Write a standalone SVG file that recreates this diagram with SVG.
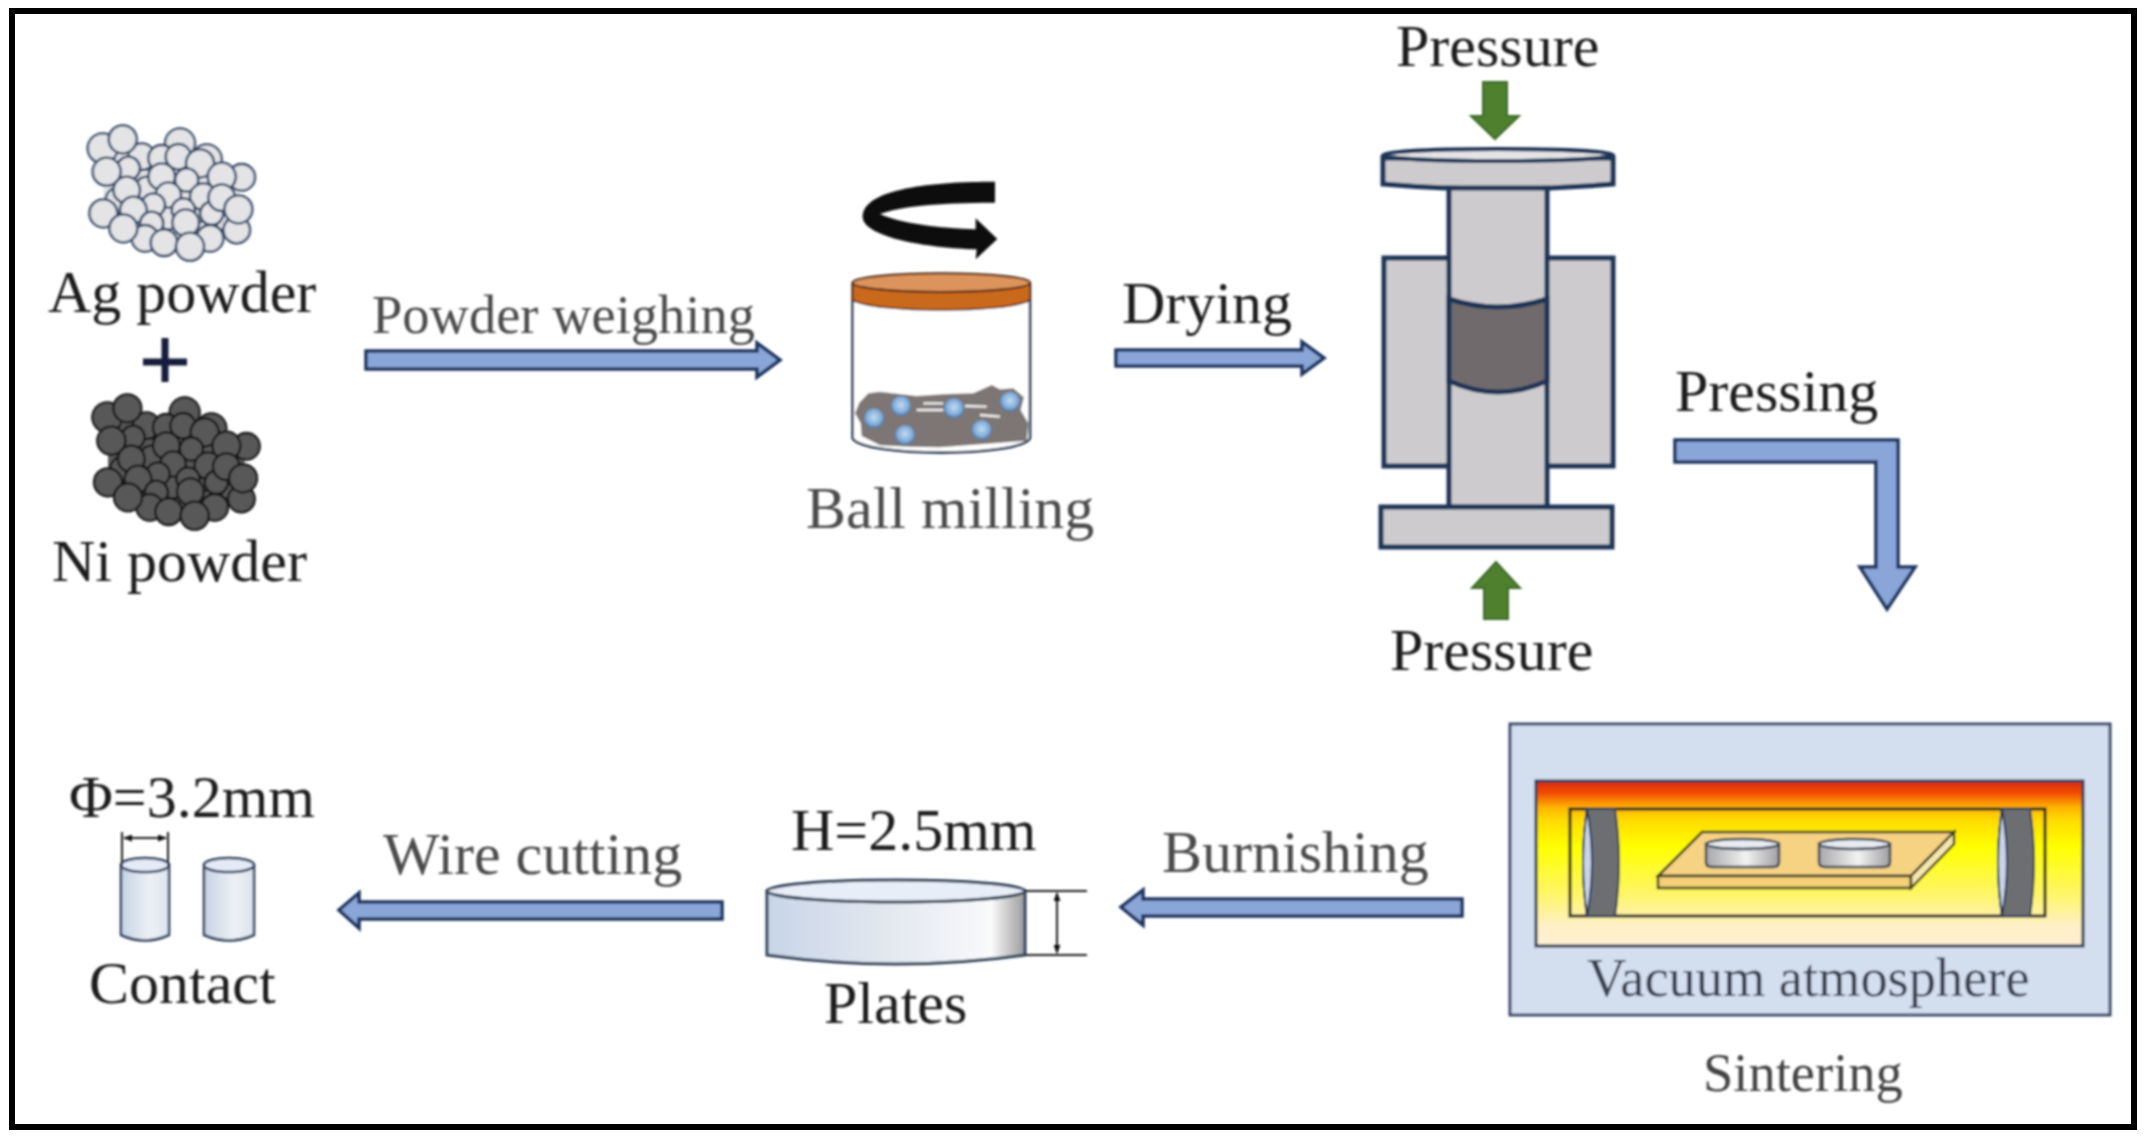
<svg xmlns="http://www.w3.org/2000/svg" width="2149" height="1140" viewBox="0 0 2149 1140">
<style>
text{font-family:"Liberation Serif","Times New Roman",serif;font-size:60px;fill:#1c1c1c}
.g{fill:#4c4c4c}
.arrow{fill:#8aa5d8;stroke:#1f3560;stroke-width:3.500;stroke-linejoin:miter}
.green{fill:#4f802f;stroke:#3c6a2a;stroke-width:2}
.steel{fill:#cdcbce;stroke:#1f3556;stroke-width:5}
.dim{fill:none;stroke:#222;stroke-width:2}
.edge{stroke:#2b3f5c;stroke-width:2.500}
</style>
<defs>
<filter id="soft" x="-2%" y="-2%" width="104%" height="104%"><feGaussianBlur stdDeviation="0.9"/></filter>
<g id="grains">
<path stroke="none" d="M190,170L420,130L600,230L600,390L450,440L315,415L190,340Z"/>
<circle cx="235" cy="300" r="38"/><circle cx="300" cy="300" r="38"/><circle cx="395" cy="235" r="38"/><circle cx="470" cy="330" r="38"/><circle cx="385" cy="350" r="38"/><circle cx="560" cy="355" r="38"/><circle cx="480" cy="250" r="38"/><circle cx="300" cy="235" r="36"/>
<circle cx="420" cy="130" r="45"/><circle cx="305" cy="170" r="40"/><circle cx="188" cy="145" r="45"/><circle cx="248" cy="118" r="42"/>
<circle cx="500" cy="178" r="45"/><circle cx="365" cy="175" r="40"/><circle cx="265" cy="205" r="35"/><circle cx="415" cy="170" r="38"/>
<circle cx="480" cy="190" r="42"/><circle cx="605" cy="232" r="40"/><circle cx="200" cy="215" r="42"/><circle cx="320" cy="265" r="35"/>
<circle cx="440" cy="240" r="35"/><circle cx="365" cy="230" r="40"/><circle cx="385" cy="285" r="38"/><circle cx="490" cy="290" r="40"/>
<circle cx="545" cy="230" r="42"/><circle cx="260" cy="270" r="40"/><circle cx="340" cy="315" r="35"/><circle cx="430" cy="330" r="35"/>
<circle cx="280" cy="330" r="40"/><circle cx="515" cy="340" r="35"/><circle cx="190" cy="340" r="42"/><circle cx="590" cy="390" r="40"/>
<circle cx="545" cy="293" r="40"/><circle cx="595" cy="328" r="42"/><circle cx="335" cy="370" r="35"/><circle cx="315" cy="415" r="40"/>
<circle cx="510" cy="415" r="40"/><circle cx="250" cy="385" r="42"/><circle cx="437" cy="368" r="40"/><circle cx="372" cy="428" r="40"/><circle cx="450" cy="440" r="42"/>
</g>
<radialGradient id="ball" cx="50%" cy="45%" r="55%"><stop offset="0" stop-color="#c3dcf2"/><stop offset="0.7" stop-color="#7fabd8"/><stop offset="1" stop-color="#44709f"/></radialGradient>
<linearGradient id="heat" x1="0" y1="0" x2="0" y2="1"><stop offset="0" stop-color="#d92a0a"/><stop offset="0.07" stop-color="#f04a05"/><stop offset="0.16" stop-color="#ffb400"/><stop offset="0.24" stop-color="#ffdc00"/><stop offset="0.4" stop-color="#ffff00"/><stop offset="0.7" stop-color="#fff56e"/><stop offset="0.88" stop-color="#fff0c8"/><stop offset="1" stop-color="#fff0d0"/></linearGradient>
<linearGradient id="metal" x1="0" y1="0" x2="1" y2="0"><stop offset="0" stop-color="#c8d5e8"/><stop offset="0.4" stop-color="#dfe5ee"/><stop offset="0.8" stop-color="#f5f6f9"/><stop offset="0.87" stop-color="#fafafa"/><stop offset="1" stop-color="#9a9a9a"/></linearGradient>
<linearGradient id="pin" x1="0" y1="0" x2="1" y2="0"><stop offset="0" stop-color="#c6d3e6"/><stop offset="0.6" stop-color="#edf0f5"/><stop offset="1" stop-color="#dde3ee"/></linearGradient>
<linearGradient id="sdisc" x1="0" y1="0" x2="1" y2="0"><stop offset="0" stop-color="#a8a8ac"/><stop offset="0.55" stop-color="#f2f2f2"/><stop offset="1" stop-color="#a0a0a4"/></linearGradient>
<marker id="tip" viewBox="0 0 10 10" refX="9" refY="5" markerWidth="9" markerHeight="7" markerUnits="userSpaceOnUse" orient="auto-start-reverse" preserveAspectRatio="none"><path d="M0,0L10,5L0,10Z" fill="#111"/></marker>
</defs>
<rect id="frame" x="12" y="11" width="2122" height="1116" fill="#fff" stroke="#000" stroke-width="6"/>
<g filter="url(#soft)">
<g id="connectors">
<path class="arrow" d="M366,351H757V343L780,360L757,377V369H366Z"/>
<path class="arrow" d="M1116,350H1302V342L1324,358L1302,374V366H1116Z"/>
<path class="arrow" d="M1675,440H1898V567H1915L1887,609L1860,567H1876V462H1675Z"/>
<path class="arrow" d="M1462,899H1143V890L1121,907L1143,925V916H1462Z"/>
<path class="arrow" d="M722,902H359V893L339,910L359,928V919H722Z"/>
</g>
<g id="ag-powder">
<use href="#grains" transform="translate(40,100) scale(.3333)" fill="#e4e4e6" stroke="#2f4464" stroke-width="7"/>
<text x="48" y="312">Ag powder</text>
</g>
<g id="plus"><path d="M143,358.500H187V365.500H143ZM161.500,338H168.500V382H161.500Z" fill="#141e3c"/></g>
<g id="ni-powder">
<use href="#grains" transform="translate(44.700,369) scale(.3333)" fill="#585858" stroke="#151515" stroke-width="7"/>
<text x="52" y="581">Ni powder</text>
</g>
<text x="372" y="333" class="g" style="font-size:54.500px">Powder weighing</text>
<g id="ball-mill">
<g transform="translate(800,160) scale(.3333)">
<path d="M585,65C400,65 190,85 188,170C188,225 350,262 530,268L527,298L592,237L527,175V208C420,205 300,190 240,162C300,140 400,128 585,128Z" fill="#0b0b10"/>
<path d="M158,368V835C190,892 658,892 690,835V368" fill="#fff" stroke="#2b3b55" stroke-width="8"/>
<path d="M205,700L240,695L350,708L440,702L520,700L575,675L600,688L640,685L672,712L662,750L685,790L680,842L600,848L500,856L420,862L330,860L240,856L185,828L182,790L165,760L178,728Z" fill="#7d7674"/>
<path d="M370,730H430M495,738L560,740M350,750H430M540,765L600,770" stroke="#f0efee" stroke-width="7" fill="none"/>
<circle cx="222" cy="775" r="30" fill="url(#ball)"/><circle cx="303" cy="738" r="30" fill="url(#ball)"/><circle cx="462" cy="745" r="30" fill="url(#ball)"/><circle cx="630" cy="725" r="30" fill="url(#ball)"/><circle cx="315" cy="825" r="30" fill="url(#ball)"/><circle cx="545" cy="810" r="30" fill="url(#ball)"/>
<path d="M158,368V420C220,460 628,460 690,420V368Z" fill="#c9691f" stroke="#5a2a10" stroke-width="5"/>
<ellipse cx="424" cy="368" rx="266" ry="28" fill="#dd935c" stroke="#4a2410" stroke-width="6"/>
</g>
<text x="806" y="528" class="g">Ball milling</text>
</g>
<text x="1122" y="323">Drying</text>
<g id="press">
<rect class="steel" x="1384" y="258" width="229" height="208"/>
<path class="steel" d="M1383,158V184Q1498,194 1613,184V158Z"/>
<ellipse cx="1498" cy="155" rx="115" ry="6" fill="#e4e4e6" stroke="#1f3556" stroke-width="4"/>
<rect class="steel" x="1449" y="188" width="98" height="319"/>
<rect class="steel" x="1381" y="507" width="231" height="40"/>
<path d="M1449,299Q1498,315 1547,299V381Q1498,403 1449,381Z" fill="#716b6c" stroke="#1f3556" stroke-width="5"/>
<path class="green" d="M1483,82H1507V116H1519L1495,139L1471,116H1483Z"/>
<path class="green" d="M1484,619H1508V588H1520L1496,562L1472,588H1484Z"/>
<text x="1396" y="66">Pressure</text>
<text x="1390" y="670">Pressure</text>
</g>
<text x="1675" y="411">Pressing</text>
<g id="furnace">
<rect x="1510" y="724" width="600" height="291" fill="#d3deef" stroke="#3a4a6a" stroke-width="3"/>
<rect x="1536" y="781" width="547" height="165" fill="url(#heat)" stroke="#2f3a55" stroke-width="3"/>
<rect x="1570" y="809" width="475" height="107" fill="none" stroke="#2b2a20" stroke-width="3"/>
<path d="M1587,809H1615Q1623,862 1615,916H1587Q1579,862 1587,809Z" fill="#6c6e72" stroke="#3a4558" stroke-width="2"/>
<path d="M1587,809Q1579,862 1587,916Q1597,862 1587,809Z" fill="#c8d4e8" stroke="#24385c" stroke-width="2"/>
<path d="M2002,809H2030Q2038,862 2030,916H2002Q1994,862 2002,809Z" fill="#6c6e72" stroke="#3a4558" stroke-width="2"/>
<path d="M2002,809Q1994,862 2002,916Q2012,862 2002,809Z" fill="#c8d4e8" stroke="#24385c" stroke-width="2"/>
<path d="M1702,832H1954L1911,876H1658Z" fill="#f6d283" stroke="#3b3b20" stroke-width="2.500"/>
<path d="M1658,876H1911V888H1658Z" fill="#f5d078" stroke="#3b3b20" stroke-width="2.500"/>
<path d="M1911,876L1954,832V844L1911,888Z" fill="#f8e6ae" stroke="#3b3b20" stroke-width="2.500"/>
<path d="M1706,844V862Q1706,867 1712,867H1773Q1779,867 1779,862V844Z" fill="url(#sdisc)" stroke="#3c4456" stroke-width="2.500"/>
<ellipse cx="1742.500" cy="844" rx="36.500" ry="5" fill="#e8ebf0" stroke="#3c4456" stroke-width="2.500"/>
<path d="M1819,844V862Q1819,867 1825,867H1884Q1890,867 1890,862V844Z" fill="url(#sdisc)" stroke="#3c4456" stroke-width="2.500"/>
<ellipse cx="1854.500" cy="844" rx="35.500" ry="5" fill="#e8ebf0" stroke="#3c4456" stroke-width="2.500"/>
<text x="1587" y="996" style="font-size:54.400px;fill:#3a4250">Vacuum atmosphere</text>
<text x="1703" y="1091" style="font-size:54.500px;fill:#444">Sintering</text>
</g>
<text x="1162" y="872" class="g">Burnishing</text>
<text x="383" y="874" class="g">Wire cutting</text>
<g id="plates">
<path d="M767,891V955Q896,973 1025,955V891Z" fill="url(#metal)" stroke="#2f4258" stroke-width="3"/>
<ellipse cx="896" cy="891" rx="129" ry="11" fill="#e8eef7" stroke="#2f4258" stroke-width="3"/>
<path class="dim" d="M1025,891H1087M1025,955H1087"/>
<path class="dim" d="M1057,893V953" marker-start="url(#tip)" marker-end="url(#tip)"/>
<text x="791" y="850">H=2.5mm</text>
<text x="824" y="1023">Plates</text>
</g>
<g id="contact">
<path class="edge" d="M121,865V935Q145,946 169,935V865Z" fill="url(#pin)"/>
<ellipse class="edge" cx="145" cy="865" rx="24" ry="7" fill="#e4ebf7"/>
<path class="edge" d="M204,865V935Q229,946 254,935V865Z" fill="url(#pin)"/>
<ellipse class="edge" cx="229" cy="865" rx="25" ry="7" fill="#e4ebf7"/>
<path class="dim" d="M122,832V866M168,832V866"/>
<path class="dim" d="M124,838H166" marker-start="url(#tip)" marker-end="url(#tip)"/>
<text x="69" y="817">Φ=3.2mm</text>
<text x="89" y="1003">Contact</text>
</g>
</g>
</svg>
